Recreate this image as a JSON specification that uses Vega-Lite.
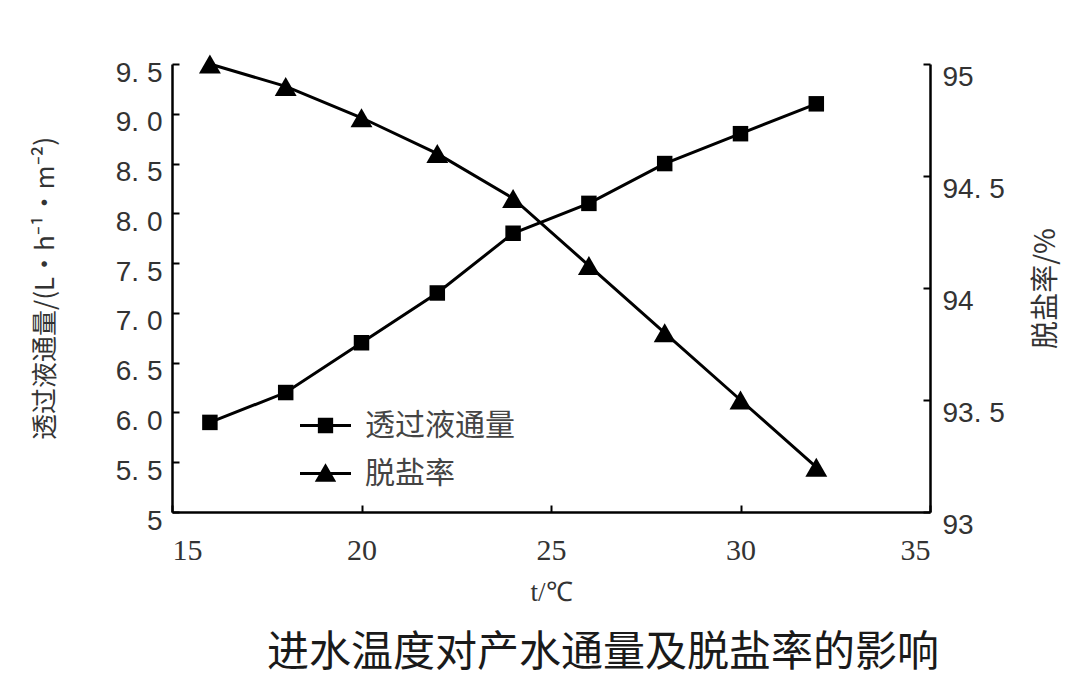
{
  "$schema": "https://vega.github.io/schema/vega-lite/v6.json",
  "width": 758,
  "height": 448,
  "autosize": {"type": "none"},
  "padding": {"left": 172, "top": 64, "right": 150, "bottom": 176},
  "background": "white",
  "config": {
    "view": {"stroke": null},
    "axis": {"domainColor": "black", "domainWidth": 2.5, "tickColor": "black", "tickWidth": 2, "grid": false, "labelColor": "#333", "titleColor": "#333", "titleFontWeight": "normal"}
  },
  "title": {
    "text": "进水温度对产水通量及脱盐率的影响",
    "orient": "bottom",
    "font": "Noto Sans CJK SC",
    "fontSize": 42,
    "fontWeight": 400,
    "color": "#1a1a1a",
    "anchor": "middle",
    "dx": 52,
    "offset": 28
  },
  "data": {
    "values": [
      {"t": 16, "flux": 5.9, "rej": 95.0},
      {"t": 18, "flux": 6.2, "rej": 94.9},
      {"t": 20, "flux": 6.7, "rej": 94.76},
      {"t": 22, "flux": 7.2, "rej": 94.6},
      {"t": 24, "flux": 7.8, "rej": 94.4},
      {"t": 26, "flux": 8.1, "rej": 94.1},
      {"t": 28, "flux": 8.5, "rej": 93.8},
      {"t": 30, "flux": 8.8, "rej": 93.5},
      {"t": 32, "flux": 9.1, "rej": 93.2}
    ]
  },
  "encoding": {
    "x": {
      "field": "t",
      "type": "quantitative",
      "scale": {"domain": [15, 35], "nice": false, "zero": false},
      "axis": {
        "values": [15, 20, 25, 30, 35],
        "title": "t/℃",
        "titleFont": "Liberation Serif",
        "titleFontSize": 27,
        "titlePadding": 14,
        "labelFont": "Liberation Serif",
        "labelFontSize": 30,
        "tickSize": -7,
        "labelPadding": 30
      }
    }
  },
  "layer": [
    {
      "encoding": {
        "y": {
          "field": "flux",
          "type": "quantitative",
          "scale": {"domain": [5, 9.5], "nice": false, "zero": false},
          "axis": {
            "orient": "left",
            "values": [5, 5.5, 6, 6.5, 7, 7.5, 8, 8.5, 9, 9.5],
            "labelExpr": "datum.value == 5 ? '5' : replace(format(datum.value, '.1f'), '.', '. ')",
            "labelFont": "Liberation Sans",
            "labelFontSize": 28,
            "labelOffset": 9,
            "tickSize": -7,
            "labelPadding": 17,
            "title": "透过液通量/(L·h⁻¹·m⁻²)",
            "titleFont": "Noto Sans CJK SC",
            "titleFontSize": 26,
            "titlePadding": 57
          }
        }
      },
      "layer": [
        {"mark": {"type": "line", "color": "black", "strokeWidth": 3}},
        {"mark": {"type": "square", "color": "black", "filled": true, "size": 240, "opacity": 1}},
        {
          "data": {"values": [{"s": "透过液通量"}, {"s": "脱盐率"}]},
          "transform": [{"filter": "datum.s == 'none'"}],
          "mark": {"type": "point", "filled": true, "color": "black"},
          "encoding": {
            "x": null,
            "y": null,
            "shape": {
              "field": "s",
              "type": "nominal",
              "scale": {
                "domain": ["透过液通量", "脱盐率"],
                "range": [
                  "M-1,-0.06H1V0.06H-1Z M-0.3,-0.3H0.3V0.3H-0.3Z",
                  "M-1,-0.06H1V0.06H-1Z M0,-0.4L0.42,0.32H-0.42Z"
                ]
              },
              "legend": {
                "orient": "none",
                "legendX": 128,
                "legendY": 336,
                "title": null,
                "padding": 0,
                "symbolSize": 2600,
                "symbolFillColor": "black",
                "symbolStrokeWidth": 0,
                "symbolOpacity": 1,
                "labelFont": "Noto Sans CJK SC",
                "labelFontSize": 30,
                "labelColor": "#444",
                "labelOffset": 14,
                "rowPadding": 7
              }
            }
          }
        }
      ]
    },
    {
      "encoding": {
        "y": {
          "field": "rej",
          "type": "quantitative",
          "scale": {"domain": [93, 95], "nice": false, "zero": false},
          "axis": {
            "orient": "right",
            "values": [93, 93.5, 94, 94.5, 95],
            "labelExpr": "datum.value % 1 == 0 ? format(datum.value, 'd') : replace(format(datum.value, '.1f'), '.', '. ')",
            "labelFont": "Liberation Sans",
            "labelFontSize": 28,
            "labelOffset": 13,
            "tickSize": -7,
            "labelPadding": 19,
            "title": "脱盐率/%",
            "titleAngle": 270,
            "titleFont": "Noto Sans CJK SC",
            "titleFontSize": 28,
            "titlePadding": 56
          }
        }
      },
      "layer": [
        {"mark": {"type": "line", "color": "black", "strokeWidth": 3}},
        {"mark": {"type": "point", "shape": "triangle-up", "color": "black", "filled": true, "size": 480, "opacity": 1}}
      ]
    }
  ],
  "resolve": {"scale": {"y": "independent"}}
}
